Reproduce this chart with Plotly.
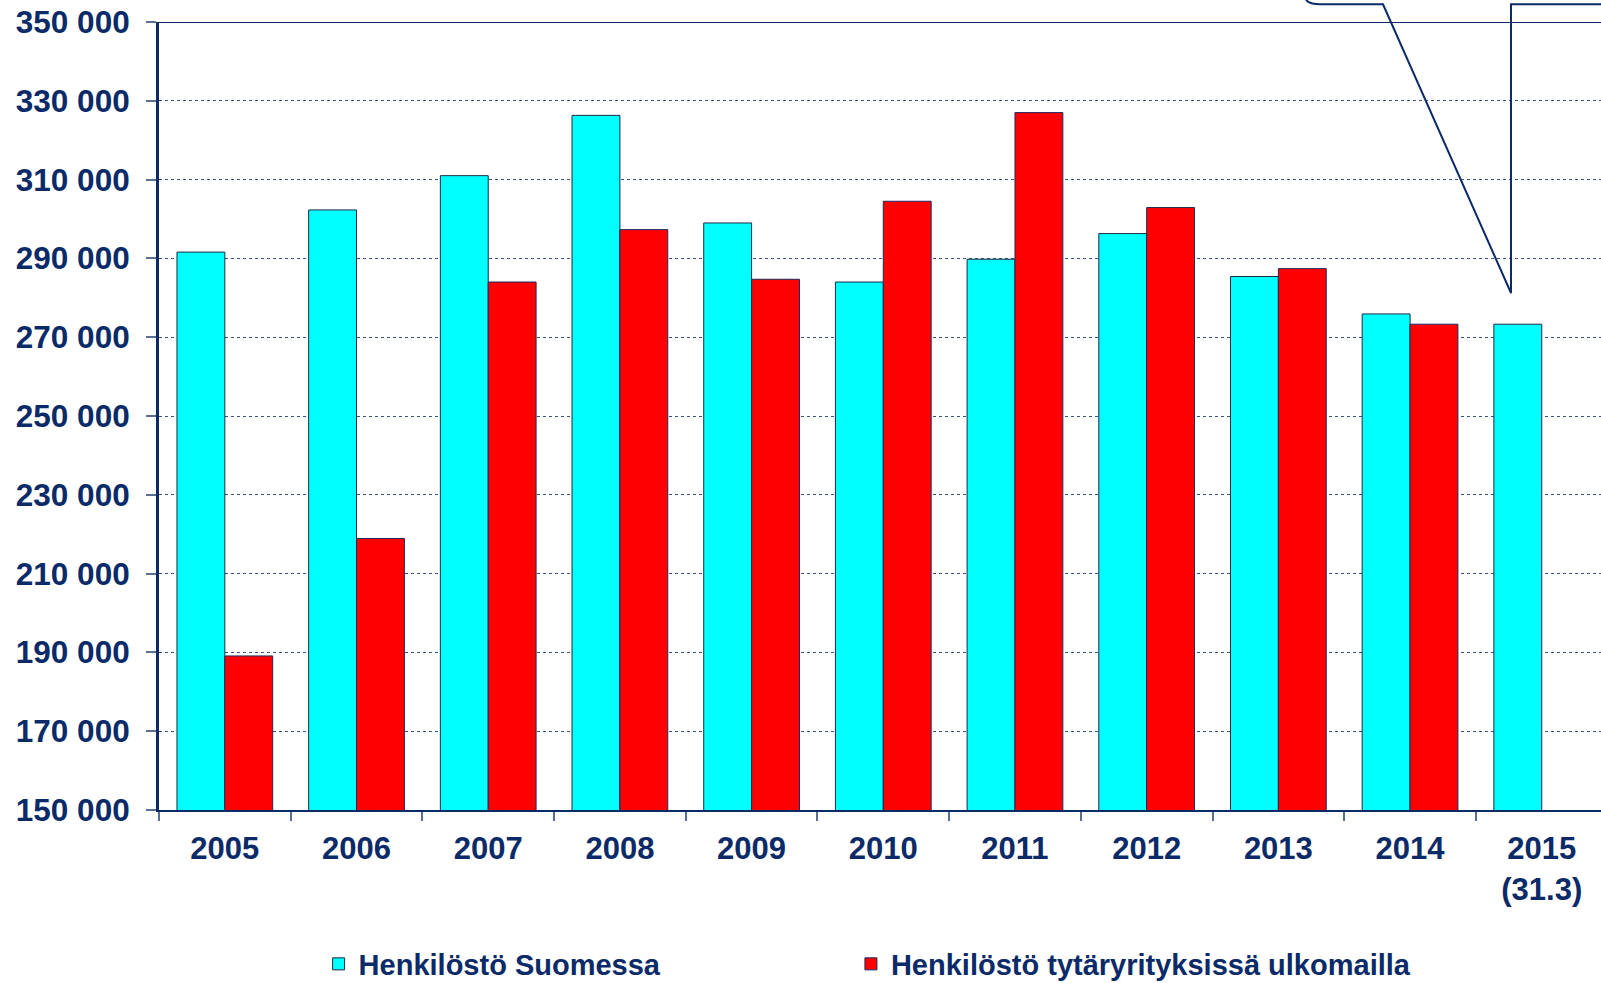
import plotly.graph_objects as go

years = ["2005", "2006", "2007", "2008", "2009", "2010", "2011", "2012", "2013", "2014", "2015<br>(31.3)"]
finland = [291600, 302300, 311000, 326300, 299000, 284000, 289800, 296300, 285400, 275900, 273300]
abroad = [189100, 218900, 284000, 297300, 284700, 304500, 327000, 302900, 287400, 273300, None]
yticks = list(range(150000, 350001, 20000))
yticklabels = [f"{v:,}".replace(",", " ") for v in yticks]

NAVY = "#0b2a68"
W, H = 1601, 983
L, R, T, B = 159, 0, 22, 173
pw, ph = W - L - R, H - T - B

fig = go.Figure()
fig.add_trace(go.Bar(x=years, y=finland, name="Henkilöstö Suomessa", legend="legend",
                     marker=dict(color="#00ffff", line=dict(color="#1a2a40", width=1))))
fig.add_trace(go.Bar(x=years, y=abroad, name="Henkilöstö tytäryrityksissä ulkomailla", legend="legend2",
                     marker=dict(color="#ff0000", line=dict(color="#1a2a5a", width=1))))

def px(x):
    return (x - L) / pw

def py(y):
    return (H - B - y) / ph

# top border line
fig.add_shape(type="line", xref="paper", yref="y", x0=0, x1=1, y0=350000, y1=350000,
              line=dict(color=NAVY, width=2))
# callout leader lines (annotation box off-canvas)
path = (f"M {px(1306)},{py(0)} Q {px(1310)},{py(4.3)} {px(1320)},{py(4.3)} "
        f"L {px(1383)},{py(4.3)} L {px(1511)},{py(293)} L {px(1511)},{py(4.3)} L {px(1605)},{py(4.3)}")
fig.add_shape(type="path", xref="paper", yref="paper", path=path,
              line=dict(color=NAVY, width=2), fillcolor="rgba(0,0,0,0)")

legfont = dict(size=29, family="Liberation Sans, Arial, sans-serif", color=NAVY, weight="bold")
leg_y = -(964 - (H - B)) / ph
fig.update_layout(
    width=W, height=H,
    margin=dict(l=L, r=R, t=T, b=B, pad=0, autoexpand=False),
    paper_bgcolor="white", plot_bgcolor="white",
    barmode="group", bargap=0.273, bargroupgap=0,
    font=dict(family="Liberation Sans, Arial, sans-serif", color=NAVY),
    showlegend=True,
    legend=dict(orientation="h", xref="container", yref="paper", x=0.199, y=leg_y,
                xanchor="left", yanchor="middle", font=legfont, itemwidth=30,
                bgcolor="rgba(0,0,0,0)"),
    legend2=dict(orientation="h", xref="container", yref="paper", x=0.5315, y=leg_y,
                 xanchor="left", yanchor="middle", font=legfont, itemwidth=30,
                 bgcolor="rgba(0,0,0,0)"),
    xaxis=dict(type="category", range=[-0.5, 10.45], tickson="boundaries",
               ticks="outside", ticklen=9, tickcolor="#5a6d94", tickwidth=2,
               showline=True, linecolor=NAVY, linewidth=2, showgrid=False, automargin=False,
               tickfont=dict(size=31, color=NAVY, weight="bold"), ticklabelstandoff=10),
    yaxis=dict(range=[150000, 350000], tickvals=yticks, ticktext=yticklabels,
               ticks="outside", ticklen=10, tickcolor="#5a6d94", tickwidth=2,
               showline=True, linecolor=NAVY, linewidth=3, automargin=False,
               showgrid=True, gridcolor="#3a5282", griddash="dot", gridwidth=1,
               zeroline=False,
               tickfont=dict(size=31.5, color=NAVY, weight="bold"), ticklabelstandoff=10),
)

fig.write_html("out.html", config={"displayModeBar": False},
               post_script="document.body.style.margin='0';document.body.style.overflow='hidden';")
